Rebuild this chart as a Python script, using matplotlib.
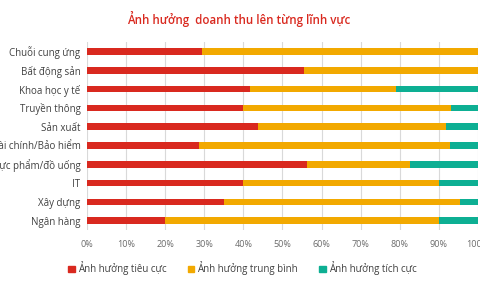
import matplotlib
matplotlib.use("Agg")
import matplotlib.pyplot as plt
import numpy as np

categories = ["Chuỗi cung ứng", "Bất động sản", "Khoa học y tế", "Truyền thông", "Sản xuất",
              "Tài chính/Bảo hiểm", "Thực phẩm/đồ uống", "IT", "Xây dựng", "Ngân hàng"]
negative = [29.4, 55.4, 41.6, 39.8, 43.6, 28.6, 56.4, 39.8, 35.0, 20.0]
medium = [70.6, 44.6, 37.6, 53.5, 48.4, 64.2, 26.4, 50.2, 60.6, 70.0]
positive = [0.0, 0.0, 20.8, 6.7, 8.0, 7.2, 17.2, 10.0, 4.4, 10.0]
series_names = ["Ảnh hưởng tiêu cực", "Ảnh hưởng trung bình", "Ảnh hưởng tích cực"]
colors = ["#D9291F", "#F2A900", "#0DAF93"]
xticks = list(range(0, 101, 10))
xticklabels = [f"{t}%" for t in xticks]

plt.rcParams['font.family'] = ['Open Sans', 'DejaVu Sans']
fig = plt.figure(figsize=(4.8, 2.88), dpi=100)
ax = fig.add_axes([0.182, 0.201, 0.813, 0.653])

y = np.arange(len(categories))
left = np.zeros(len(categories))
for vals, c, name in zip([negative, medium, positive], colors, series_names):
    ax.barh(y, vals, left=left, height=0.35, color=c, label=name, zorder=3)
    left += np.array(vals)

ax.set_ylim(len(categories) - 0.5, -0.5)
ax.set_xlim(0, 100)
ax.set_yticks(y)
ax.set_yticklabels(categories, fontsize=7, color="#404040")
ax.set_xticks(xticks)
ax.set_xticklabels(xticklabels, fontsize=6.5, color="#6B6B6B")
ax.tick_params(axis='both', length=0, pad=5)
ax.tick_params(axis='x', pad=7)
ax.grid(axis='x', color="#D9D9D9", linewidth=0.8, zorder=0)
for s in ax.spines.values():
    s.set_visible(False)

fig.text(0.497, 0.935, "Ảnh hưởng  doanh thu lên từng lĩnh vực", ha='center', va='center',
         fontsize=8.3, color="#D9291F", fontweight='semibold')

handles = [plt.Rectangle((0, 0), 1, 1, color=c) for c in colors]
fig.legend(handles, series_names, loc='center', bbox_to_anchor=(0.505, 0.068), ncol=3,
           frameon=False, fontsize=7, handlelength=0.7, handleheight=0.7,
           handletextpad=0.3, columnspacing=2.2, labelcolor="#404040")

fig.savefig("out.png", dpi=100)
